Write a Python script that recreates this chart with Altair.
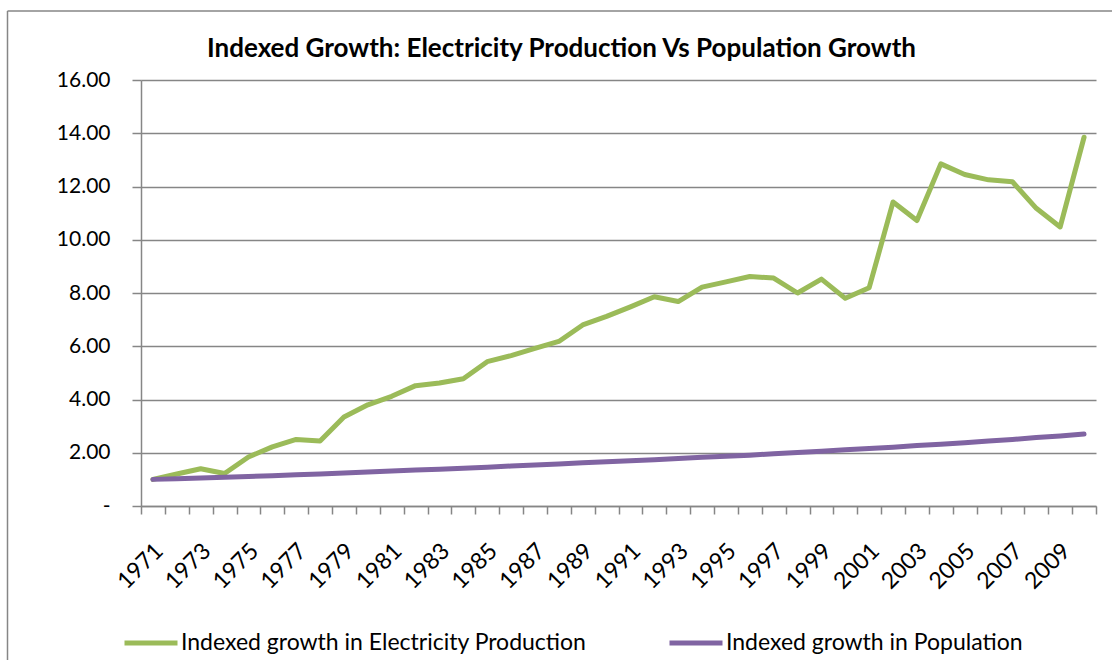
import altair as alt
import pandas as pd

# Indexed growth (1971 = 1.00) of electricity production and of population
years = list(range(1971, 2011))

electricity = [
    1.00, 1.20, 1.40, 1.22, 1.84, 2.22, 2.50, 2.44, 3.34, 3.80,
    4.12, 4.52, 4.62, 4.78, 5.42, 5.65, 5.92, 6.18, 6.80, 7.12,
    7.48, 7.86, 7.68, 8.22, 8.42, 8.62, 8.56, 8.00, 8.52, 7.80,
    8.20, 11.42, 10.72, 12.85, 12.45, 12.25, 12.18, 11.18, 10.48, 13.85,
]

population = [
    1.00, 1.02, 1.05, 1.08, 1.11, 1.14, 1.17, 1.20, 1.24, 1.28,
    1.31, 1.35, 1.38, 1.42, 1.46, 1.50, 1.54, 1.58, 1.62, 1.66,
    1.70, 1.74, 1.78, 1.83, 1.87, 1.91, 1.96, 2.01, 2.06, 2.11,
    2.16, 2.21, 2.27, 2.32, 2.38, 2.44, 2.50, 2.57, 2.63, 2.70,
]

series_names = [
    "Indexed growth in Electricity Production",
    "Indexed growth in Population",
]
series_colors = ["#9BBB59", "#8064A2"]

y_ticks = [0, 2, 4, 6, 8, 10, 12, 14, 16]

df = pd.DataFrame({
    "year": [str(y) for y in years] * 2,
    "value": electricity + population,
    "series": [series_names[0]] * len(years) + [series_names[1]] * len(years),
})

FONT = "Lato"
GRID = "#868686"

lines = alt.Chart(df).mark_line(strokeWidth=5, strokeCap="round", strokeJoin="round").encode(
    x=alt.X(
        "year:O",
        bandPosition=0.5,
        scale=alt.Scale(type="band", paddingInner=0, paddingOuter=0),
        axis=alt.Axis(
            title=None,
            labelAngle=-45,
            labelAlign="right",
            labelBaseline="middle",
            labelExpr="parseInt(datum.label) % 2 == 1 ? datum.label : ''",
            labelFont=FONT,
            labelFontSize=23,
            labelColor="black",
            labelPadding=33,
            labelOffset=6,
            tickBand="extent",
            tickSize=8,
            tickColor=GRID,
            tickWidth=1.5,
            domainColor=GRID,
            domainWidth=1.5,
            grid=False,
        ),
    ),
    y=alt.Y(
        "value:Q",
        scale=alt.Scale(domain=[0, 16], nice=False, zero=True),
        axis=alt.Axis(
            title=None,
            values=y_ticks,
            format=".2f",
            labelExpr="datum.value == 0 ? '-\u00a0\u00a0' : datum.label",
            labelFont=FONT,
            labelFontSize=21,
            labelColor="black",
            labelPadding=22,
            tickSize=9,
            tickColor=GRID,
            tickWidth=1.5,
            domainColor=GRID,
            domainWidth=1.5,
            grid=True,
            gridColor=GRID,
            gridWidth=1.5,
        ),
    ),
    color=alt.Color(
        "series:N",
        scale=alt.Scale(domain=series_names, range=series_colors),
        legend=alt.Legend(
            title=None,
            orient="none",
            legendX=-19,
            legendY=534,
            direction="horizontal",
            symbolType="stroke",
            symbolSize=2809,
            symbolStrokeWidth=5,
            labelFont=FONT,
            labelFontSize=23,
            labelColor="black",
            labelOffset=1,
            columnPadding=72,
            labelLimit=0,
        ),
    ),
    order=alt.Order("year:O"),
)

# chart-area frame (left and top edges)
frame_data = alt.Data(values=[{"k": 0}])
frame_left = alt.Chart(frame_data).mark_rule(color=GRID, strokeWidth=1.5).encode(
    x=alt.value(-133.5), y=alt.value(-69), y2=alt.value(600)
)
frame_top = alt.Chart(frame_data).mark_rule(color=GRID, strokeWidth=1.5).encode(
    x=alt.value(-133.5), x2=alt.value(1000), y=alt.value(-69)
)

chart = alt.layer(lines, frame_left, frame_top).properties(
    width=955,
    height=426,
    title=alt.TitleParams(
        "Indexed Growth: Electricity Production Vs Population Growth",
        font=FONT,
        fontSize=26,
        fontWeight="bold",
        color="black",
        anchor="middle",
        dx=-57,
        dy=52,
        offset=0,
    ),
    autosize=alt.AutoSizeParams(type="none"),
    padding={"left": 141, "top": 80, "right": 16, "bottom": 154},
    background="white",
).configure_view(strokeWidth=0)

chart.save("out.html", embed_options={"renderer": "svg", "actions": False})
